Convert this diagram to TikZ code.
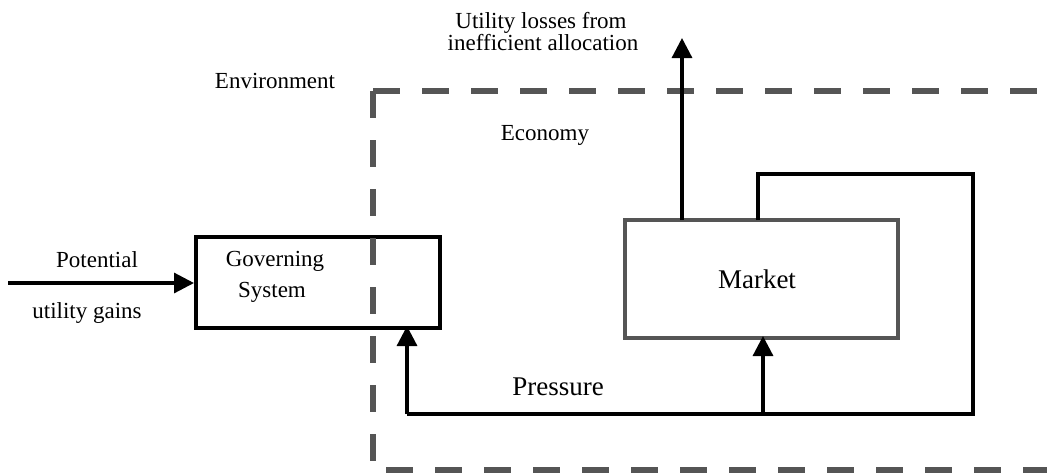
\documentclass[tikz,border=0pt]{standalone}
\usepackage{fontspec}
\setmainfont{Liberation Serif}
\usetikzlibrary{arrows.meta}
\definecolor{dgray}{HTML}{555555}
\begin{document}
\begin{tikzpicture}[x=1pt,y=-1pt,
  lbl/.style={inner sep=0pt,anchor=base,font=\fontsize{23}{23}\selectfont},
  biglbl/.style={inner sep=0pt,anchor=base,font=\fontsize{27}{27}\selectfont},
  flow/.style={line width=3.2pt,-{Triangle[length=20pt,width=20pt]}},
  plain/.style={line width=3.2pt},
  bnd/.style={line width=6.5pt,dgray,dash pattern=on 27pt off 22pt},
  govbox/.style={draw=black,line width=4.5pt,minimum width=244pt,minimum height=91pt,inner sep=0pt,outer sep=0pt},
  mktbox/.style={draw=dgray,line width=4.5pt,minimum width=273pt,minimum height=118pt,inner sep=0pt,outer sep=0pt}]
\useasboundingbox (0,0) rectangle (1047,475);
% boxes
\node[govbox] (gov) at (318,282.5) {};
\node[mktbox] (mkt) at (761.5,279) {};
% boundary of the economy
\coordinate (tl) at (373,91);
\coordinate (tr) at (1070,91);
\coordinate (bl) at (373,470);
\coordinate (br) at (1070,470);
\draw[bnd] (tl) -- (tr);
\draw[bnd] (tl) -- (bl) -- (br);
% labels
\node[lbl] (env) at (275,88) {Environment};
\node[lbl] (eco) at (545,140) {Economy};
\node[lbl] (ul1) at (541,28) {Utility losses from};
\node[lbl] (ul2) at (543,50) {inefficient allocation};
\node[lbl] (pot1) at (97,267) {Potential};
\node[lbl] (pot2) at (87,318) {utility gains};
\node[lbl] (gov1) at (275,266) {Governing};
\node[lbl] (gov2) at (272,297) {System};
\node[biglbl] (mktt) at (757,288) {Market};
\node[biglbl] (pres) at (558,395) {Pressure};
% connectors
\coordinate (inS) at (8,283);
\draw[flow] (inS) -- ([xshift=-2pt]gov.west |- inS);
\coordinate (outE) at (682,38);
\draw[flow] (mkt.north -| outE) -- (outE);
\coordinate (lp1) at (758,174);
\coordinate (lp2) at (973,174);
\coordinate (lp3) at (973,414);
\coordinate (lp4) at (407,414);
\coordinate (lpm) at (763,414);
\draw[plain,line join=miter] (mkt.north -| lp1) -- (lp1) -- (lp2) -- (lp3) -- (lp4);
\draw[flow] (lp4) -- ([yshift=2pt]gov.south -| lp4);
\draw[flow] (lpm) -- ([yshift=2pt]mkt.south -| lpm);
\end{tikzpicture}
\end{document}
